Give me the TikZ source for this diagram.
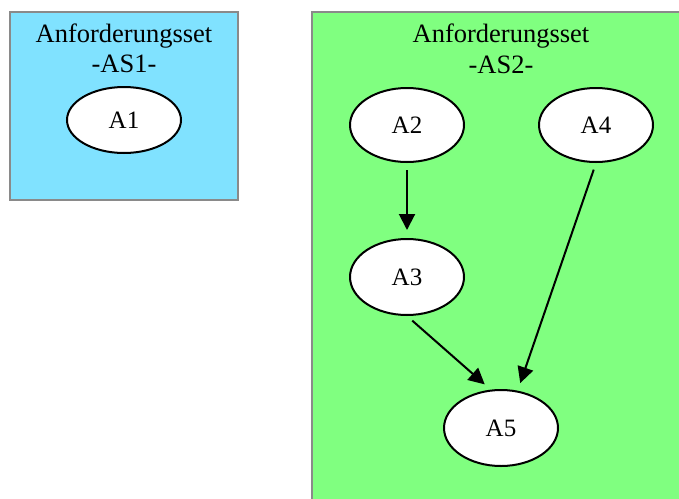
\documentclass[tikz,border=0pt]{standalone}
\usepackage{fontspec}
\setmainfont{Liberation Serif}
\usetikzlibrary{arrows.meta,shapes.geometric}
\definecolor{setblue}{HTML}{80E2FF}
\definecolor{setgreen}{HTML}{80FF80}
\definecolor{setframe}{HTML}{8A8A8A}
\tikzset{
  setbox/.style={draw=setframe, line width=1.2pt},
  req/.style={ellipse, draw=black, fill=white, line width=2pt,
              minimum width=114pt, minimum height=74pt, inner sep=0pt,
              font=\fontsize{25}{28}\selectfont},
  settitle/.style={anchor=base, inner sep=0pt, font=\fontsize{26.5}{30}\selectfont},
  dep/.style={-{Triangle[length=16pt,width=16pt]}, line width=2pt,
              shorten <=7pt, shorten >=8pt}
}
\begin{document}
\begin{tikzpicture}[x=1pt,y=-1pt]
  \useasboundingbox (0,0) rectangle (679,498);
  \fill[white] (0,0) rectangle (679,498);
  % requirement set AS1
  \draw[setbox, fill=setblue] (10,12) rectangle (238,200);
  \node[settitle] (t1a) at (124,42) {Anforderungsset};
  \node[settitle] (t1b) at (124,72) {-AS1-};
  \node[req, minimum height=66pt] (A1) at (124,120) {A1};
  % requirement set AS2
  \begin{scope}
    \clip (0,0) rectangle (679,498);
    \draw[setbox, fill=setgreen] (312,12) rectangle (700,520);
  \end{scope}
  \node[settitle] (t2a) at (501,42) {Anforderungsset};
  \node[settitle] (t2b) at (501,73) {-AS2-};
  \node[req] (A2) at (407,125) {A2};
  \node[req] (A4) at (596,125) {A4};
  \node[req, minimum height=76pt] (A3) at (407,277) {A3};
  \node[req, minimum height=76pt] (A5) at (501,428) {A5};
  % dependencies
  \draw[dep] (A2.south) -- (A3.north);
  \draw[dep] (A3.south) -- (A5.105);
  \draw[dep] (A4.south) -- (A5.66);
\end{tikzpicture}
\end{document}
